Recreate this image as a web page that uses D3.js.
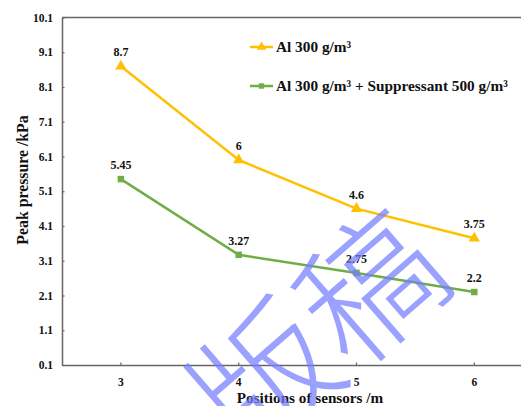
<!DOCTYPE html>
<html>
<head>
<meta charset="utf-8">
<script src="https://cdn.jsdelivr.net/npm/d3@7"></script>
<style>
  html, body { margin: 0; padding: 0; background: #fff; }
  svg { display: block; }
</style>
</head>
<body>
<svg id="chart" width="521" height="406"></svg>
<script>
// Sensor positions along the duct (m)
const positions = [3, 4, 5, 6];
// Peak overpressure (kPa) for each case
const alOnly = [8.7, 6, 4.6, 3.75];
const alSuppressed = [5.45, 3.27, 2.75, 2.2];
const seriesNames = ["Al 300 g/m³", "Al 300 g/m³ + Suppressant 500 g/m³"];
const yTicks = [0.1, 1.1, 2.1, 3.1, 4.1, 5.1, 6.1, 7.1, 8.1, 9.1, 10.1];

const SERIF = "'Times New Roman', 'Liberation Serif', Times, serif";
const svg = d3.select("#chart");
const plotLeft = 62, plotTop = 17.5, plotBottom = 365, plotRight = 533.2;

const x = d3.scaleBand().domain(positions).range([plotLeft, plotRight]).paddingInner(0).paddingOuter(0);
const cx = d => x(d) + x.bandwidth() / 2;
const y = d3.scaleLinear().domain([0.1, 10.1]).range([plotBottom, plotTop]);

const axisColor = "#666";
const styleText = sel => sel.style("font-family", SERIF).style("font-weight", "bold").style("fill", "#111");

// top frame line
svg.append("line").attr("x1", plotLeft).attr("x2", plotRight).attr("y1", plotTop).attr("y2", plotTop)
  .attr("stroke", axisColor).attr("stroke-width", 1.5);

// y axis with inward ticks
const yAxis = svg.append("g").attr("transform", `translate(${plotLeft},0)`)
  .call(d3.axisLeft(y).tickValues(yTicks).tickFormat(d3.format(".1f")).tickSizeInner(-2.5).tickSizeOuter(0).tickPadding(9));
yAxis.select(".domain").attr("stroke", axisColor).attr("stroke-width", 1.5);
yAxis.selectAll(".tick line").attr("stroke", axisColor).attr("stroke-width", 1.2);
yAxis.selectAll(".tick text").attr("font-size", 11.5).call(styleText);

// x axis with inward ticks at category centres
const xAxis = svg.append("g").attr("transform", `translate(0,${plotBottom})`)
  .call(d3.axisBottom(x).tickSizeInner(-2.5).tickSizeOuter(0).tickPadding(13));
xAxis.select(".domain").attr("stroke", axisColor).attr("stroke-width", 1.5);
xAxis.selectAll(".tick line").attr("stroke", axisColor).attr("stroke-width", 1.2);
xAxis.selectAll(".tick text").attr("font-size", 11.5).call(styleText);

// axis titles
svg.append("text").attr("x", 310).attr("y", 403).attr("text-anchor", "middle")
  .attr("font-size", 15.2).call(styleText).text("Positions of sensors /m");
svg.append("text").attr("transform", "translate(28,180) rotate(-90)").attr("text-anchor", "middle")
  .attr("font-size", 15.8).call(styleText).text("Peak pressure /kPa");

const series = [
  { name: seriesNames[0], values: alOnly, color: "#FFC000", marker: d3.symbolTriangle, size: 55 },
  { name: seriesNames[1], values: alSuppressed, color: "#70AD47", marker: d3.symbolSquare, size: 42 }
];

const line = d3.line().x((d, i) => cx(positions[i])).y(d => y(d));

series.forEach(s => {
  const g = svg.append("g");
  g.append("path").datum(s.values).attr("d", line)
    .attr("fill", "none").attr("stroke", s.color).attr("stroke-width", 2.5);
  g.selectAll("path.m").data(s.values).join("path").attr("class", "m")
    .attr("d", d3.symbol(s.marker, s.size))
    .attr("transform", (d, i) => `translate(${cx(positions[i])},${y(d)})`)
    .attr("fill", s.color);
  g.selectAll("text").data(s.values).join("text")
    .attr("x", (d, i) => cx(positions[i])).attr("y", d => y(d) - 10)
    .attr("text-anchor", "middle").attr("font-size", 12).call(styleText).text(d => d);
});

// legend
const legend = svg.append("g");
series.forEach((s, i) => {
  const ly = 47 + i * 39;
  legend.append("line").attr("x1", 250).attr("x2", 273).attr("y1", ly).attr("y2", ly)
    .attr("stroke", s.color).attr("stroke-width", 2.5);
  legend.append("path").attr("d", d3.symbol(s.marker, s.size * 0.7))
    .attr("transform", `translate(261.5,${ly})`).attr("fill", s.color);
  legend.append("text").attr("x", 276).attr("y", ly + 5).attr("font-size", 15.3).call(styleText).text(s.name);
});

// review stamp across the lower right
svg.append("text")
  .attr("transform", "translate(352,372) rotate(-41)")
  .attr("text-anchor", "middle")
  .attr("font-size", 140)
  .style("font-family", "'Noto Sans CJK SC'")
  .style("font-weight", "300")
  .style("fill", "rgba(115,125,255,0.72)")
  .text("版稿");
</script>
</body>
</html>
